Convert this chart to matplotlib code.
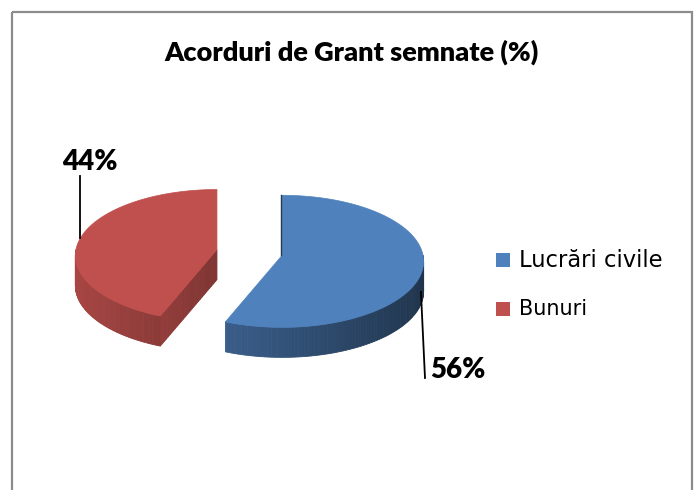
import numpy as np
import matplotlib.pyplot as plt
from matplotlib.patches import Polygon, Rectangle
from matplotlib.colors import to_rgb

# chart data
labels = ['Lucrări civile', 'Bunuri']
values = [56, 44]
top_colors = ['#4f81bd', '#c0504d']
title = 'Acorduri de Grant semnate (%)'

# 3d pie geometry in pixel space (y grows downwards)
cx, cy = 249.5, 252.5
rx, ry = 141, 65.5
persp = 0.09      # front of the pie drawn a bit bigger than the back
depth = 30
explode = 0.235


def mix(c, k):
    r, g, b = to_rgb(c)
    return (min(r * k, 1), min(g * k, 1), min(b * k, 1))


def pt(theta, ox, oy, z=0.0):
    t = np.radians(theta)
    s = 1.0 / (1.0 + persp * np.cos(t))
    return ox + rx * np.sin(t) * s, oy - ry * np.cos(t) * s + z


def side_shade(theta):
    # lit from the left
    return 0.64 - 0.24 * np.sin(np.radians(theta))


fig = plt.figure(figsize=(6.96, 4.90), dpi=100)
ax = fig.add_axes([0, 0, 1, 1])
ax.set_xlim(0, 696)
ax.set_ylim(490, 0)
ax.axis('off')

# chart border
ax.add_patch(Rectangle((12, 12), 680, 500, fill=False, edgecolor='#8c8c8c', lw=1.6))

ax.text(351, 52, title, ha='center', va='center', fontsize=19.5,
        fontweight='heavy', family='Lato')

total = float(sum(values))
start = 0.0
anchors = []
for i, v in enumerate(values):
    a0 = start
    a1 = start + 360.0 * v / total
    start = a1
    mid = (a0 + a1) / 2
    tm = np.radians(mid)
    ox = cx + explode * rx * np.sin(tm)
    oy = cy - explode * ry * np.cos(tm)
    col = top_colors[i]

    # cut faces of the wedge that face the viewer
    for edge, sgn in ((a0, -1), (a1, 1)):
        if sgn * np.sin(np.radians(edge)) > 1e-6:
            xa, ya = pt(edge, ox, oy)
            n = 30
            for j in range(n):
                f0, f1 = j / n, (j + 1) / n
                p0 = (ox + (xa - ox) * f0, oy + (ya - oy) * f0)
                p1 = (ox + (xa - ox) * f1, oy + (ya - oy) * f1)
                c = mix(col, 0.66 + 0.10 * (f0 + f1) / 2)
                poly = [p0, p1, (p1[0], p1[1] + depth), (p0[0], p0[1] + depth)]
                ax.add_patch(Polygon(poly, closed=True, fc=c, ec=c, lw=0.6))

    # outer side (visible front half only)
    s0, s1 = max(a0, 90.0), min(a1, 270.0)
    if s1 > s0:
        th = np.linspace(s0, s1, 90)
        for t0, t1 in zip(th[:-1], th[1:]):
            x0, y0 = pt(t0, ox, oy)
            x1, y1 = pt(t1, ox, oy)
            c = mix(col, side_shade((t0 + t1) / 2))
            poly = [(x0, y0), (x1, y1), (x1, y1 + depth), (x0, y0 + depth)]
            ax.add_patch(Polygon(poly, closed=True, fc=c, ec=c, lw=0.6))

    # thin dark sliver along the back radial edge
    if abs(np.sin(np.radians(a0))) < 1e-6 and a0 < a1:
        xb, yb = pt(a0, ox, oy)
        ax.plot([xb - 0.8, ox - 0.8], [yb, oy], color=mix(col, 0.45), lw=1.0)

    # top face
    th = np.linspace(a0, a1, 150)
    poly = [(ox, oy)] + [pt(t, ox, oy) for t in th]
    ax.add_patch(Polygon(poly, closed=True, fc=col, ec=col, lw=0.5))

    anchors.append((ox, oy, mid))

# data labels with leader lines
ox, oy, mid = anchors[0]
bx, by = pt(mid, ox, oy, depth)
ax.plot([bx - 2, 425], [by - 6, 378], color='black', lw=1.3)
ax.text(430, 370, f'{values[0]}%', ha='left', va='center', fontsize=20,
        fontweight='heavy', family='Lato')

ox, oy, mid = anchors[1]
bx, by = pt(mid, ox, oy)
ax.plot([80, 80], [by, 176], color='black', lw=1.3)
ax.text(90, 162, f'{values[1]}%', ha='center', va='center', fontsize=20,
        fontweight='heavy', family='Lato')

# legend
leg_y = [260, 309]
leg_size = [16.3, 15]
for i, lab in enumerate(labels):
    ax.add_patch(Rectangle((496, leg_y[i] - 7), 14, 14, fc=top_colors[i], ec='none'))
    ax.text(519, leg_y[i], lab, ha='left', va='center', fontsize=leg_size[i],
            family='DejaVu Sans')

fig.savefig('out.png', dpi=100)
